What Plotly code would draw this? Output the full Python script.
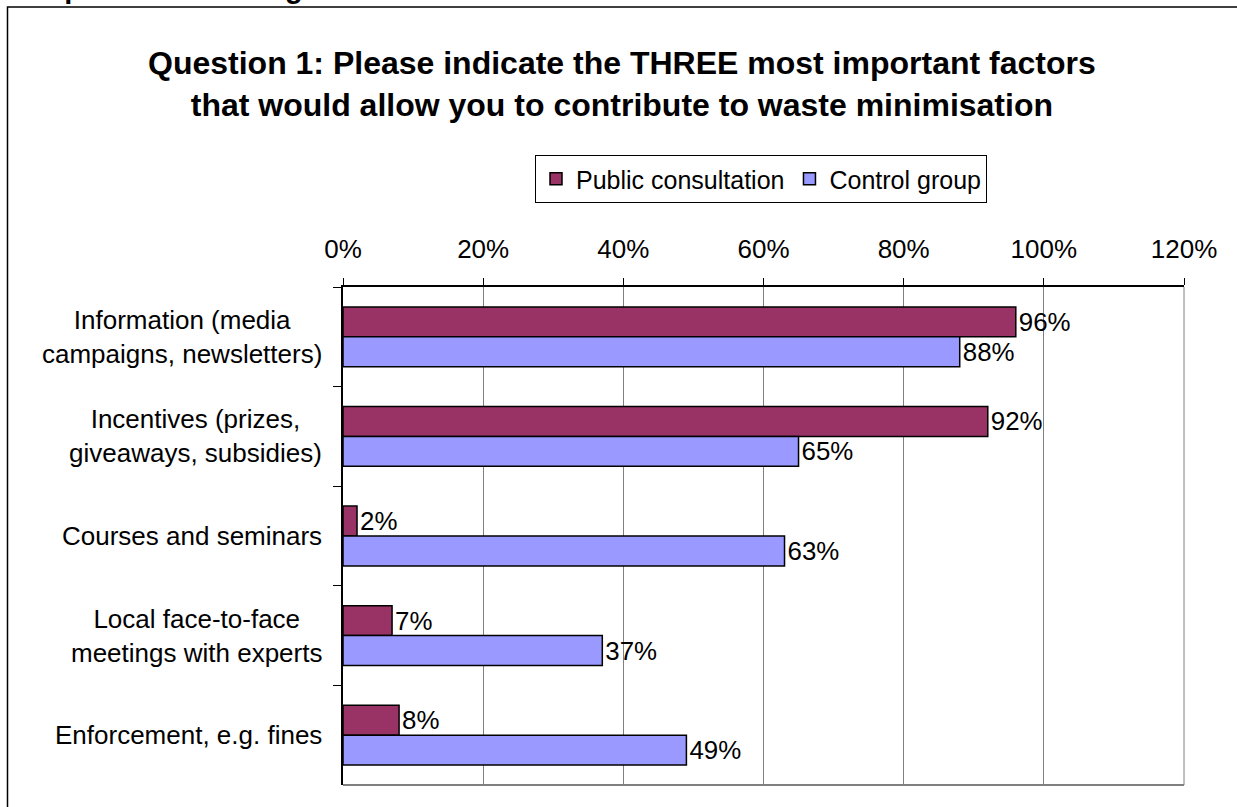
import plotly.graph_objects as go

categories = [
    "Information (media<br>campaigns, newsletters)",
    "Incentives (prizes,<br>giveaways, subsidies)",
    "Courses and seminars",
    "Local face-to-face<br>meetings with experts",
    "Enforcement, e.g. fines",
]
cat_keys = ["Information", "Incentives", "Courses", "Local", "Enforcement"]
public_consultation = [0.96, 0.92, 0.02, 0.07, 0.08]
control_group = [0.88, 0.65, 0.63, 0.37, 0.49]
x_ticks = [0, 0.2, 0.4, 0.6, 0.8, 1.0, 1.2]
title_lines = [
    "Question 1: Please indicate the THREE most important factors",
    "that would allow you to contribute to waste minimisation",
]
header_text = "Responses including SAIN"

FONT = "Liberation Sans, Arial, sans-serif"
W, H = 1237, 807
L, R, T, B = 343, 1184, 287, 785
FS = 26

def px_x(px):
    return (px - L) / (R - L)

def px_y(py):
    return (B - py) / (B - T)

fig = go.Figure()
fig.add_trace(go.Bar(
    y=cat_keys, x=public_consultation, orientation="h", name="Public consultation",
    marker=dict(color="#993366", line=dict(color="black", width=1.5)),
    text=[f"{v:.0%}" for v in public_consultation], textposition="outside",
    textfont=dict(size=FS, color="black", family=FONT), cliponaxis=False,
))
fig.add_trace(go.Bar(
    y=cat_keys, x=control_group, orientation="h", name="Control group",
    marker=dict(color="#9999FF", line=dict(color="black", width=1.5)),
    text=[f"{v:.0%}" for v in control_group], textposition="outside",
    textfont=dict(size=FS, color="black", family=FONT), cliponaxis=False,
))

annotations = []
for key, lab in zip(cat_keys, categories):
    annotations.append(dict(
        x=px_x(324), xref="paper", y=key, yref="y", text=lab,
        showarrow=False, xanchor="right", yanchor="middle",
        align="center", font=dict(size=FS, color="black", family=FONT),
    ))

annotations.append(dict(
    x=px_x(622), xref="paper", y=px_y(84), yref="paper",
    text="<b>" + "<br>".join(title_lines) + "</b>", showarrow=False,
    xanchor="center", yanchor="middle", align="center",
    font=dict(size=32, color="black", family=FONT),
))
annotations.append(dict(
    x=px_x(9), xref="paper", y=px_y(-12), yref="paper",
    text=f"<b>{header_text}</b>", showarrow=False, xanchor="left", yanchor="middle",
    font=dict(size=29, color="black", family=FONT),
))

shapes = [
    dict(type="rect", xref="paper", yref="paper", x0=px_x(7.5), y0=px_y(900),
         x1=px_x(1400), y1=px_y(7), line=dict(color="black", width=1.5), layer="below"),
    dict(type="line", xref="paper", yref="paper", x0=0, x1=1, y0=0, y1=0,
         line=dict(color="#808080", width=2)),
    dict(type="line", xref="paper", yref="paper", x0=1, x1=1, y0=0, y1=1,
         line=dict(color="#808080", width=1)),
]

fig.update_layout(
    width=W, height=H,
    margin=dict(l=L, r=W - R, t=T, b=H - B, pad=0),
    paper_bgcolor="white", plot_bgcolor="white",
    barmode="group", bargap=0.4, bargroupgap=0,
    font=dict(family=FONT, color="black"),
    showlegend=True,
    legend=dict(
        orientation="h", x=px_x(761), xanchor="center", y=px_y(155), yanchor="top",
        bordercolor="black", borderwidth=1, font=dict(size=25, family=FONT),
        itemwidth=30, traceorder="normal", bgcolor="white",
    ),
    xaxis=dict(
        side="top", range=[0, 1.2], tickvals=x_ticks, tickformat=".0%",
        showgrid=True, gridcolor="#808080", gridwidth=1,
        showline=True, linecolor="black", linewidth=1.5,
        ticks="outside", ticklen=7, tickcolor="black", ticklabelstandoff=10,
        tickfont=dict(size=FS, family=FONT), zeroline=False, fixedrange=True,
    ),
    yaxis=dict(
        categoryorder="array", categoryarray=cat_keys, autorange="reversed",
        showticklabels=False, showline=True, linecolor="black", linewidth=1.5,
        ticks="outside", ticklen=8, tickcolor="black", tickson="boundaries",
        showgrid=False, fixedrange=True,
    ),
    annotations=annotations, shapes=shapes,
)

fig.write_html(
    "out.html",
    config={"displayModeBar": False},
    post_script="document.body.style.margin='0';document.body.style.overflow='hidden';",
)
